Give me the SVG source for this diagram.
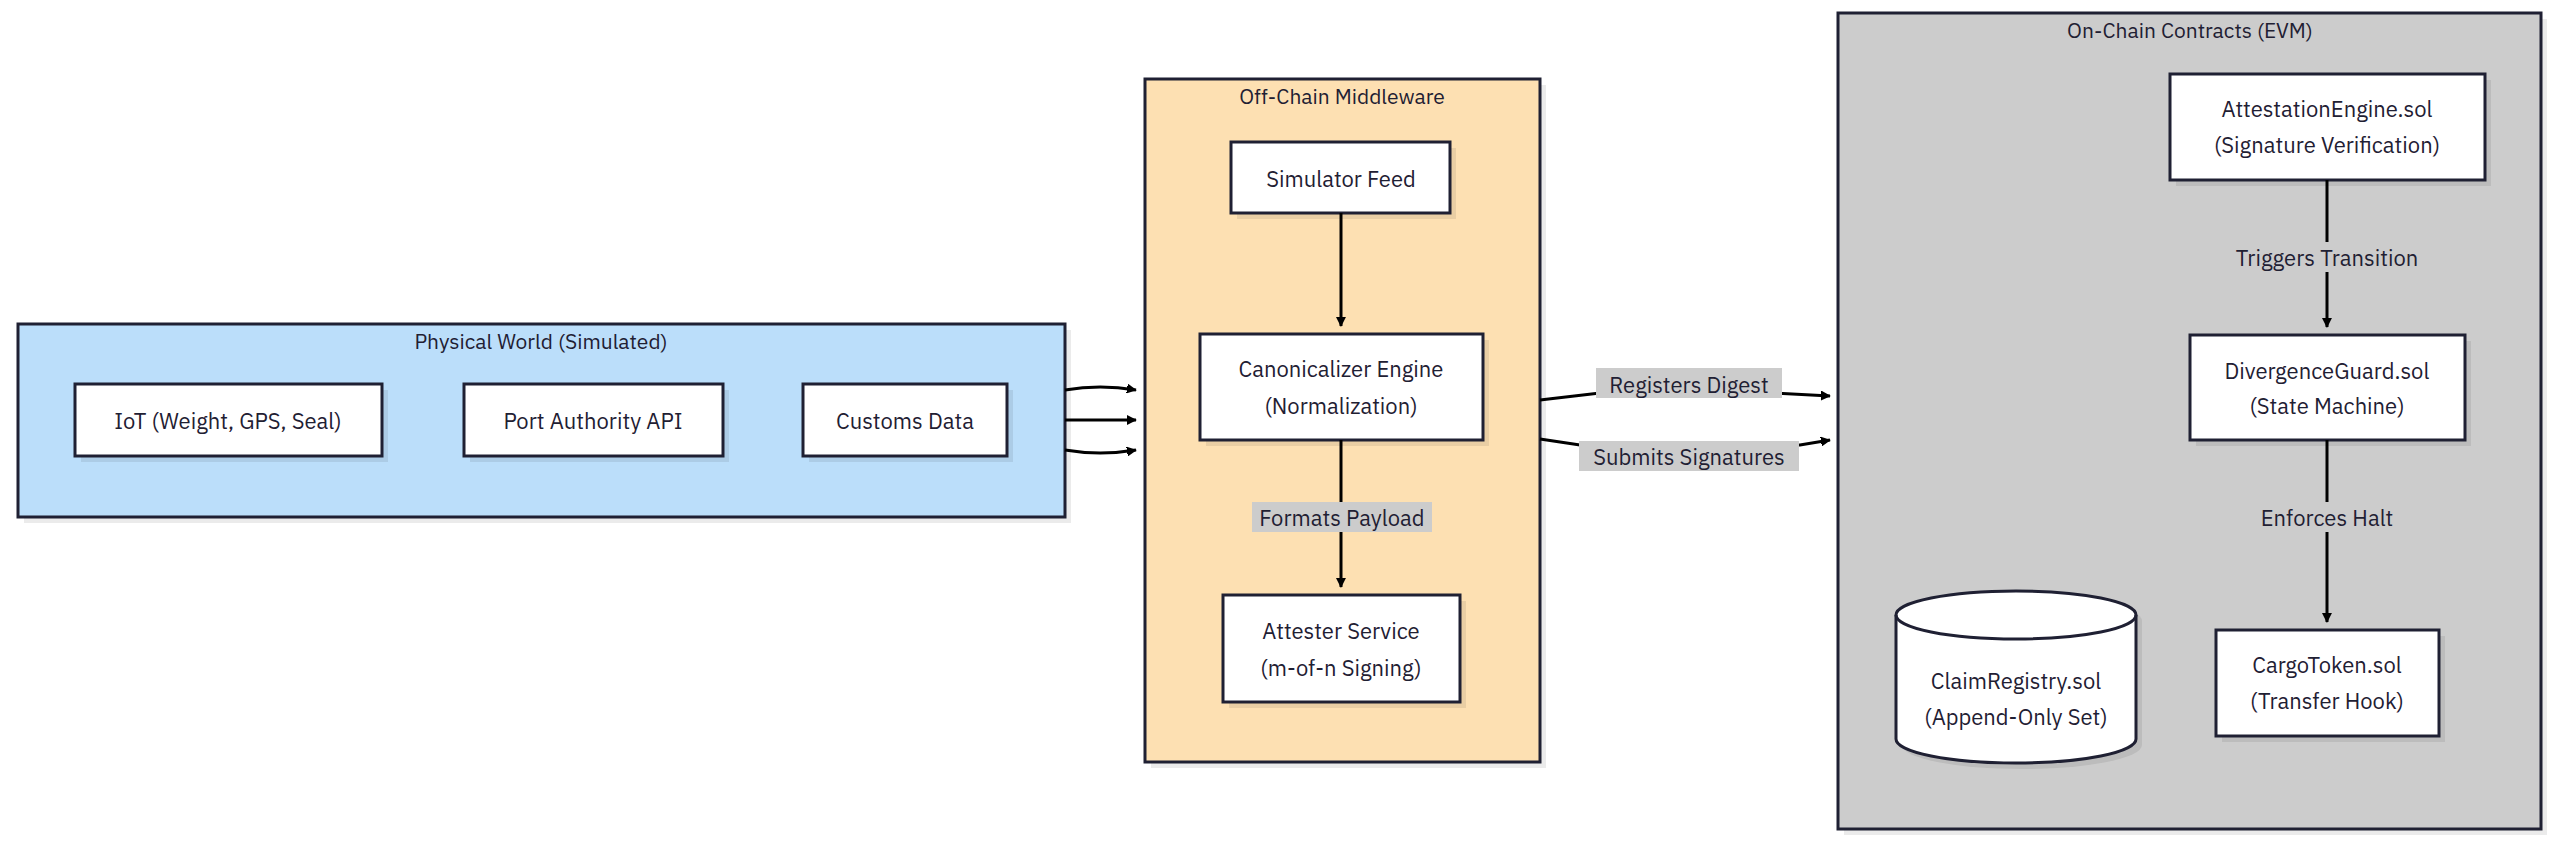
<svg xmlns="http://www.w3.org/2000/svg" width="2560" height="841" viewBox="0 0 2560 841">
<style>
text{font-family:"IBM Plex Sans","Noto Sans","Liberation Sans",sans-serif;fill:#1f2033;text-anchor:middle;dominant-baseline:central}
.t{font-size:21px}.n{font-size:22px}
.box{fill:#fff;stroke:#1f2033;stroke-width:3}
.sh{fill:#000;opacity:0.08}
.e{fill:none;stroke:#000;stroke-width:3;marker-end:url(#a)}
.lb{fill:#cccccc}
</style>
<defs><marker id="a" markerWidth="10" markerHeight="10" refX="9" refY="5" orient="auto" markerUnits="userSpaceOnUse"><path d="M0,0L10,5L0,10z" transform="scale(1.8) translate(-4.5,-2.2)" fill="#000"/></marker></defs>
<rect width="2560" height="841" fill="#fff"/>
<g id="physical"><rect class="sh" x="24" y="330" width="1047" height="193"/><rect x="18" y="324" width="1047" height="193" fill="#bbdefa" stroke="#1f2033" stroke-width="3"/><text class="t" x="541" y="341">Physical World (Simulated)</text></g>
<g id="middleware"><rect class="sh" x="1151" y="85" width="395" height="683"/><rect x="1145" y="79" width="395" height="683" fill="#fde0b2" stroke="#1f2033" stroke-width="3"/><text class="t" x="1342" y="96">Off-Chain Middleware</text></g>
<g id="onchain"><rect class="sh" x="1844" y="19" width="703" height="816"/><rect x="1838" y="13" width="703" height="816" fill="#cccccc" stroke="#1f2033" stroke-width="3"/><text class="t" x="2190" y="30">On-Chain Contracts (EVM)</text></g>
<g id="iot"><rect class="sh" x="81" y="390" width="307" height="72"/><rect class="box" x="75" y="384" width="307" height="72"/><text class="n" x="228" y="420">IoT (Weight, GPS, Seal)</text></g>
<g id="port"><rect class="sh" x="470" y="390" width="259" height="72"/><rect class="box" x="464" y="384" width="259" height="72"/><text class="n" x="593" y="420">Port Authority API</text></g>
<g id="customs"><rect class="sh" x="809" y="390" width="204" height="72"/><rect class="box" x="803" y="384" width="204" height="72"/><text class="n" x="905" y="420">Customs Data</text></g>
<g id="sim"><rect class="sh" x="1237" y="148" width="219" height="71"/><rect class="box" x="1231" y="142" width="219" height="71"/><text class="n" x="1341" y="178">Simulator Feed</text></g>
<g id="canon"><rect class="sh" x="1206" y="340" width="283" height="106"/><rect class="box" x="1200" y="334" width="283" height="106"/><text class="n" x="1341" y="368">Canonicalizer Engine</text><text class="n" x="1341" y="405">(Normalization)</text></g>
<g id="attester"><rect class="sh" x="1229" y="601" width="237" height="107"/><rect class="box" x="1223" y="595" width="237" height="107"/><text class="n" x="1341" y="630">Attester Service</text><text class="n" x="1341" y="667">(m-of-n Signing)</text></g>
<g id="attest"><rect class="sh" x="2176" y="80" width="315" height="106"/><rect class="box" x="2170" y="74" width="315" height="106"/><text class="n" x="2327" y="108">AttestationEngine.sol</text><text class="n" x="2327" y="144">(Signature Verification)</text></g>
<g id="divergence"><rect class="sh" x="2196" y="341" width="275" height="105"/><rect class="box" x="2190" y="335" width="275" height="105"/><text class="n" x="2327" y="370">DivergenceGuard.sol</text><text class="n" x="2327" y="405">(State Machine)</text></g>
<g id="cargo"><rect class="sh" x="2222" y="636" width="223" height="106"/><rect class="box" x="2216" y="630" width="223" height="106"/><text class="n" x="2327" y="664">CargoToken.sol</text><text class="n" x="2327" y="700">(Transfer Hook)</text></g>
<g id="claim"><path class="sh" d="M1902,621 a120,24 0 0 1 240,0 v124 a120,24 0 0 1 -240,0z"/><path class="box" d="M1896,615 a120,24 0 0 1 240,0 v124 a120,24 0 0 1 -240,0z"/><path d="M1896,615 a120,24 0 0 0 240,0" fill="none" stroke="#1f2033" stroke-width="3"/><text class="n" x="2016" y="680">ClaimRegistry.sol</text><text class="n" x="2016" y="716">(Append-Only Set)</text></g>
<g id="edges">
<path class="e" d="M1065,390 Q1100,384 1136,390"/>
<path class="e" d="M1065,420 L1136,420"/>
<path class="e" d="M1065,450 Q1100,456 1136,450"/>
<path class="e" d="M1341,213 V326"/>
<path class="e" d="M1341,440 V587"/>
<path class="e" d="M2327,180 V327"/>
<path class="e" d="M2327,440 V622"/>
<path class="e" d="M1540,400 L1600,393 L1775,393 L1830,396"/>
<path class="e" d="M1540,439 L1580,445 L1800,445 L1830,440"/>
<rect class="lb" x="1252" y="502" width="180" height="30"/><text class="n" x="1342" y="517">Formats Payload</text>
<rect class="lb" x="1596" y="368" width="186" height="30"/><text class="n" x="1689" y="384">Registers Digest</text>
<rect class="lb" x="1579" y="441" width="220" height="30"/><text class="n" x="1689" y="456">Submits Signatures</text>
<rect x="2220" y="242" width="214" height="30" fill="#cccccc"/><text class="n" x="2327" y="257">Triggers Transition</text>
<rect x="2250" y="502" width="154" height="30" fill="#cccccc"/><text class="n" x="2327" y="517">Enforces Halt</text>
</g>
</svg>
